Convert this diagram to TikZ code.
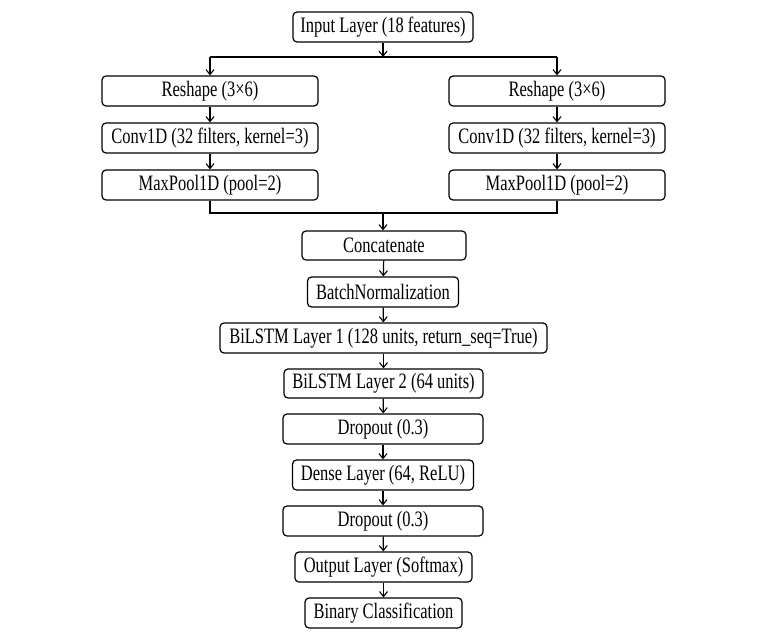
\documentclass[tikz,border=0pt]{standalone}
\usepackage{fontspec}
\setmainfont{Liberation Serif}[FakeStretch=0.75]
\usetikzlibrary{arrows.meta}
\tikzset{
  layerbox/.style={draw=black, line width=1.2pt, rounded corners=4pt, minimum height=30pt, inner sep=0pt, font=\fontsize{22}{25}\selectfont, text=black},
  flow/.style={line width=1.2pt, draw=black, -{Straight Barb[length=5pt,width=8pt,line width=1.1pt]}},
  plain/.style={line width=1.2pt, draw=black}
}
\begin{document}
\begin{tikzpicture}[x=1pt,y=-1pt]
\useasboundingbox (0,0) rectangle (766,634);
\node[layerbox, minimum width=180pt] (input) at (383,27) {Input Layer (18 features)};
\node[layerbox, minimum width=216pt] (reshL) at (210,91) {Reshape (3×6)};
\node[layerbox, minimum width=216pt] (reshR) at (557,91) {Reshape (3×6)};
\node[layerbox, minimum width=216pt] (convL) at (210,138) {Conv1D (32 filters, kernel=3)};
\node[layerbox, minimum width=216pt] (convR) at (557,138) {Conv1D (32 filters, kernel=3)};
\node[layerbox, minimum width=216pt] (poolL) at (210,185) {MaxPool1D (pool=2)};
\node[layerbox, minimum width=216pt] (poolR) at (557,185) {MaxPool1D (pool=2)};
\node[layerbox, minimum width=164pt, minimum height=29pt] (concat) at (384,245.5) {Concatenate};
\node[layerbox, minimum width=151pt] (batch) at (383,292) {BatchNormalization};
\node[layerbox, minimum width=327pt] (bil1) at (383.5,338) {BiLSTM Layer 1 (128 units, return\_seq=True)};
\node[layerbox, minimum width=199pt, minimum height=29pt] (bil2) at (383.5,383.5) {BiLSTM Layer 2 (64 units)};
\node[layerbox, minimum width=200pt] (drop1) at (383,429) {Dropout (0.3)};
\node[layerbox, minimum width=181pt] (dense) at (383,475) {Dense Layer (64, ReLU)};
\node[layerbox, minimum width=200pt] (drop2) at (383,521) {Dropout (0.3)};
\node[layerbox, minimum width=177pt] (output) at (383.5,567) {Output Layer (Softmax)};
\node[layerbox, minimum width=157pt] (binary) at (383.5,613) {Binary Classification};
% split junction
\coordinate (split) at (383,57);
\coordinate (splitL) at (210,57);
\coordinate (splitR) at (557,57);
\draw[flow] (input.south) -- (split);
\draw[plain] (splitL) -- (splitR);
\draw[flow] (splitL) -- (reshL.north);
\draw[flow] (splitR) -- (reshR.north);
\draw[flow] (reshL) -- (convL);
\draw[flow] (convL) -- (poolL);
\draw[flow] (reshR) -- (convR);
\draw[flow] (convR) -- (poolR);
% merge junction
\coordinate (merge) at (383,213);
\draw[plain] (poolL.south) |- (merge);
\draw[plain] (poolR.south) |- (merge);
\draw[flow] (merge) -- (merge |- concat.north);
\draw[flow] (concat) -- (batch);
\draw[flow] (batch) -- (bil1);
\draw[flow] (bil1) -- (bil2);
\draw[flow] (bil2) -- (drop1);
\draw[flow] (drop1) -- (dense);
\draw[flow] (dense) -- (drop2);
\draw[flow] (drop2) -- (output);
\draw[flow] (output) -- (binary);
\end{tikzpicture}
\end{document}
